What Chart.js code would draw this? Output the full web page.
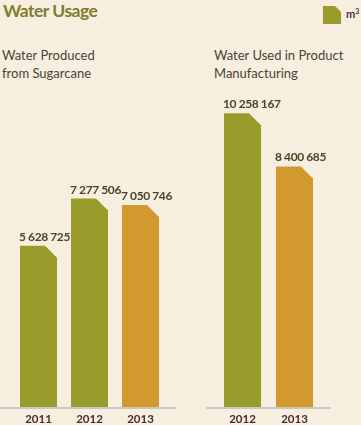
<!DOCTYPE html>
<html>
<head>
<meta charset="utf-8">
<script src="https://cdn.jsdelivr.net/npm/chart.js@4"></script>
<style>
  html, body { margin: 0; padding: 0; }
  body { width: 361px; height: 425px; background: #f6eedf; position: relative; overflow: hidden; font-family: Lato, "Open Sans", sans-serif; }
  .title { position: absolute; left: 3px; top: 0px; font-size: 17.5px; font-weight: bold; letter-spacing: -0.5px; color: #807c30; }
  .legendBox { position: absolute; left: 323px; top: 6px; width: 18px; height: 18px; background: #999c2b;
    clip-path: polygon(0 0, 12px 0, 18px 6px, 18px 18px, 0 18px); }
  .unit { position: absolute; left: 346px; top: 7px; font-size: 11px; font-weight: bold; color: #5a2a40; }
  .unit sup { font-size: 7px; vertical-align: 4px; }
  .sub { position: absolute; top: 46px; font-size: 13px; line-height: 18px; color: #4a4436; }
  canvas { position: absolute; top: 90px; }
</style>
</head>
<body>
<div class="title">Water Usage</div>
<div class="legendBox"></div>
<div class="unit">m<sup>3</sup></div>
<div class="sub" style="left:2px">Water Produced<br>from Sugarcane</div>
<div class="sub" style="left:214px">Water Used in Product<br>Manufacturing</div>
<canvas id="sugarChart" width="180" height="335" style="left:0"></canvas>
<canvas id="productChart" width="181" height="335" style="left:180px"></canvas>
<script>
const sugarYears = ['2011', '2012', '2013'];
const sugarValues = [5628725, 7277506, 7050746];
const productYears = ['2012', '2013'];
const productValues = [10258167, 8400685];
const yMax = 11000000;

const OLIVE = '#999c2b';
const ORANGE = '#d29a2e';
const yearColor = y => (y === '2013' ? ORANGE : OLIVE);

function fmt(v) {
  return String(v).replace(/\B(?=(\d{3})+(?!\d))/g, ' ');
}

// bars with a cut top-right corner, value labels, and a baseline wider than the bars
const chamferBars = {
  id: 'chamferBars',
  beforeDatasetDraw() { return false; },
  afterDatasetsDraw(chart, args, opts) {
    const ctx = chart.ctx;
    const meta = chart.getDatasetMeta(0);
    const base = chart.scales.y.getPixelForValue(0);
    const area = chart.chartArea;

    ctx.save();
    ctx.strokeStyle = '#c9c7c2';
    ctx.lineWidth = 2;
    ctx.beginPath();
    ctx.moveTo(area.left - opts.extLeft, base + 1);
    ctx.lineTo(area.right + opts.extRight, base + 1);
    ctx.stroke();

    meta.data.forEach((el, i) => {
      const p = el.getProps(['x', 'y', 'base', 'width'], true);
      const l = p.x - p.width / 2, r = p.x + p.width / 2;
      const cut = 12;
      ctx.fillStyle = el.options.backgroundColor;
      ctx.beginPath();
      ctx.moveTo(l, p.base);
      ctx.lineTo(l, p.y);
      ctx.lineTo(r - cut, p.y);
      ctx.lineTo(r, p.y + cut);
      ctx.lineTo(r, p.base);
      ctx.closePath();
      ctx.fill();

      ctx.fillStyle = '#4a4628';
      ctx.font = 'bold 12px Lato, "Open Sans", sans-serif';
      ctx.letterSpacing = '-0.4px';
      ctx.textAlign = 'left';
      ctx.textBaseline = 'alphabetic';
      ctx.fillText(fmt(chart.data.datasets[0].data[i]), l - 1, p.y - 5);
    });
    ctx.restore();
  }
};

function makeChart(id, labels, values, pad, ext) {
  return new Chart(document.getElementById(id), {
    type: 'bar',
    data: {
      labels: labels,
      datasets: [{
        data: values,
        backgroundColor: labels.map(yearColor),
        barThickness: 37
      }]
    },
    options: {
      responsive: false,
      animation: false,
      layout: { padding: { top: 2, bottom: 0, left: pad.left, right: pad.right } },
      plugins: {
        legend: { display: false },
        tooltip: { enabled: false },
        chamferBars: ext
      },
      scales: {
        x: {
          grid: { display: false, drawTicks: false },
          border: { display: false },
          ticks: { color: '#4b2a2e', font: { family: 'Lato', size: 11.5, weight: 'bold' }, padding: 5 },
          afterFit(scale) { scale.height = 18; }
        },
        y: { display: false, min: 0, max: yMax }
      }
    },
    plugins: [chamferBars]
  });
}

makeChart('sugarChart', sugarYears, sugarValues, { left: 13, right: 14 }, { extLeft: 13, extRight: 10 });
makeChart('productChart', productYears, productValues, { left: 36.5, right: 40.5 }, { extLeft: 10.5, extRight: 10.5 });
</script>
</body>
</html>
